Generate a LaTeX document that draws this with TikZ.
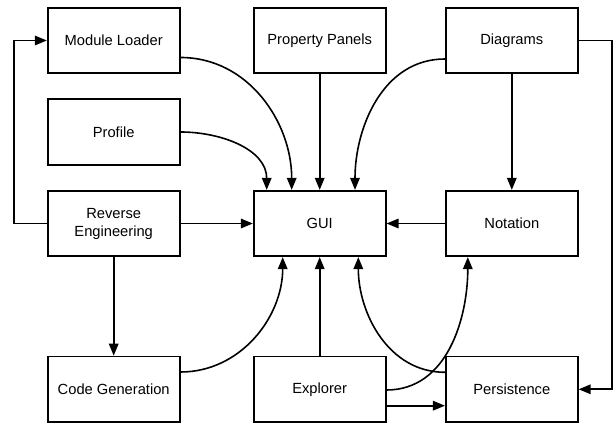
\documentclass[tikz,border=0pt]{standalone}
\usepackage{fontspec}
\setmainfont{Liberation Sans}
\usetikzlibrary{arrows.meta,calc}
\begin{document}
\begin{tikzpicture}[x=1pt,y=1pt,
  box/.style={draw=black,line width=1.7pt,minimum width=132pt,minimum height=65.5pt,inner sep=2pt,align=center,font=\fontsize{14.7}{18}\selectfont},
  arr/.style={line width=1.6pt,-{Triangle[length=12pt,width=9.5pt]}},
  ln/.style={line width=1.6pt}]
\useasboundingbox (0,0) rectangle (615,428);
\node[box] (ml) at (113.7,387.5) {Module Loader};
\node[box] (pp) at (319.7,387.5) {Property Panels};
\node[box] (dg) at (511.8,387.5) {Diagrams};
\node[box] (pr) at (113.7,296) {Profile};
\node[box] (re) at (113.7,204.5) {Reverse\\Engineering};
\node[box] (gui) at (319.7,204.5) {GUI};
\node[box] (no) at (511.8,204.5) {Notation};
\node[box] (cg) at (113.7,38.7) {Code Generation};
\node[box] (ex) at (319.7,38.7) {Explorer};
\node[box] (pe) at (511.8,38.7) {Persistence};
\coordinate (ll) at (14,0);
\coordinate (rr) at (612,0);
% straight connectors
\draw[arr] (pp.south) -- (gui.north);
\draw[arr] (dg.south) -- (no.north);
\draw[arr] (re.east) -- (gui.west);
\draw[arr] (no.west) -- (gui.east);
\draw[arr] (re.south) -- (cg.north);
\draw[arr] (ex.north) -- (gui.south);
\draw[arr] (re.west) -- (re.west -| ll) |- (ml.west);
\draw[arr] (dg.east) -- (dg.east -| rr) |- (pe.east);
\coordinate (exr) at ($(ex.east)+(0,-16.4)$);
\draw[arr] (exr) -- (exr -| pe.west);
% curved connectors
\draw[arr] ($(ml.east)+(0,-17)$) to[out=0,in=90] ($(gui.north)+(-28,0)$);
\draw[arr] (pr.east) to[out=0,in=90] ($(gui.north)+(-53,0)$);
\draw[arr] ($(dg.west)+(0,-18.5)$) to[out=180,in=90] ($(gui.north)+(35.3,0)$);
\draw[arr] ($(cg.east)+(0,17.3)$) to[out=0,in=-90] ($(gui.south)+(-37,0)$);
\draw[arr] ($(pe.west)+(0,17)$) to[out=180,in=-90] ($(gui.south)+(38.6,0)$);
\draw[arr] ($(ex.east)+(0,-0.7)$) to[out=0,in=-90] ($(no.south)+(-44,0)$);
\end{tikzpicture}
\end{document}
